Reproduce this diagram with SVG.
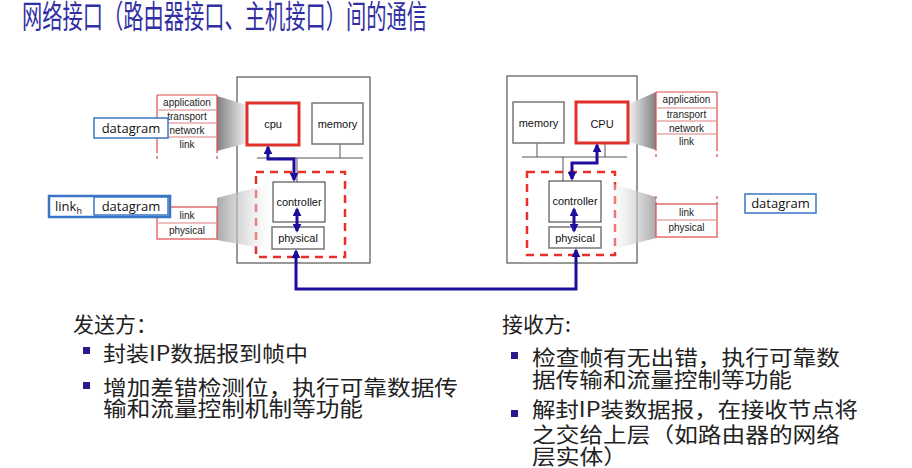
<svg xmlns="http://www.w3.org/2000/svg" width="912" height="468" viewBox="0 0 912 468">
<defs>
<style>
.host{fill:#fff;stroke:#555;stroke-width:1.2}
.box{fill:#fff;stroke:#333;stroke-width:1}
.gbox{fill:#fff;stroke:#777;stroke-width:1.5}
.cpu{fill:#fff;stroke:#e0302a;stroke-width:3}
.dash{fill:none;stroke:#e8302a;stroke-width:2.5;stroke-dasharray:8 6}
.bus{stroke:#555;stroke-width:1;fill:none}
.stk{fill:none;stroke:#e04848;stroke-width:1.2}
.div{stroke:#eaa8a8;stroke-width:1.5}
.sd{stroke:#e04848;stroke-width:1.2;stroke-dasharray:3 3}
.lbl{font-family:"Liberation Sans",Arial,sans-serif;font-size:11px;fill:#111;text-anchor:middle}
.sl{font-family:"Liberation Sans",Arial,sans-serif;font-size:10px;fill:#222;text-anchor:middle}
.dg{font-family:"Open Sans","Liberation Sans",sans-serif;font-size:13px;fill:#111}
.dgb{fill:#fff;stroke:#3a74c4;stroke-width:1.5}
.arr{fill:none;stroke:#1c0d9c;stroke-width:3}
.cn{font-family:"Noto Sans CJK SC","Noto Sans",sans-serif;font-size:21px;fill:#222}
.bul{fill:#2a1a8c}
</style>
<marker id="ah" viewBox="0 0 10 10" refX="8" refY="5" markerWidth="3" markerHeight="3" orient="auto-start-reverse">
<path d="M0,0 L10,5 L0,10 z" fill="#1c0d9c"/>
</marker>
<linearGradient id="gL" x1="0" y1="0" x2="1" y2="0">
<stop offset="0" stop-color="#808080"/><stop offset="1" stop-color="#f2f2f2"/>
</linearGradient>
<linearGradient id="gR" x1="0" y1="0" x2="1" y2="0">
<stop offset="0" stop-color="#f2f2f2"/><stop offset="1" stop-color="#808080"/>
</linearGradient>
<linearGradient id="gL2" x1="0" y1="0" x2="1" y2="0">
<stop offset="0" stop-color="#a0a0a0" stop-opacity="0.9"/><stop offset="1" stop-color="#ffffff" stop-opacity="0.3"/>
</linearGradient>
<linearGradient id="gR2" x1="0" y1="0" x2="1" y2="0">
<stop offset="0" stop-color="#ffffff" stop-opacity="0.3"/><stop offset="1" stop-color="#a0a0a0" stop-opacity="0.9"/>
</linearGradient>
</defs>
<rect width="912" height="468" fill="#fff"/>

<g id="title">
<text x="22" y="28" font-family="Noto Sans CJK SC,sans-serif" font-size="32" fill="#3030a4" textLength="405" lengthAdjust="spacingAndGlyphs">网络接口（路由器接口、主机接口）间的通信</text>
</g>

<g id="host-left">
<rect class="host" x="237" y="77" width="133" height="186"/>
<line class="bus" x1="257" y1="158" x2="363" y2="158"/>
<line class="bus" x1="340" y1="144" x2="340" y2="158"/>
<line class="bus" x1="297" y1="158" x2="297" y2="182"/>
<rect class="dash" x="256" y="172" width="89" height="85"/>
<polygon points="217,96 247,105 247,143 217,151" fill="url(#gL)"/>
<polygon points="217,198 273,183 273,250 217,240" fill="url(#gL2)"/>
<g id="cpu-left"><rect class="cpu" x="247" y="103" width="52" height="42"/><text class="lbl" x="273" y="128">cpu</text></g>
<g id="memory-left"><rect class="gbox" x="312" y="103" width="51" height="41"/><text class="lbl" x="337.5" y="128">memory</text></g>
<g id="controller-left"><rect class="box" x="273" y="182" width="52" height="40"/><text class="lbl" x="299" y="206">controller</text></g>
<g id="physical-left"><rect class="gbox" x="272" y="227" width="52" height="22"/><text class="lbl" x="298" y="242">physical</text></g>
</g>

<g id="host-right">
<rect class="host" x="507" y="76" width="130" height="187"/>
<line class="bus" x1="522" y1="157" x2="627" y2="157"/>
<line class="bus" x1="537" y1="143" x2="537" y2="157"/>
<line class="bus" x1="605" y1="143" x2="605" y2="157"/>
<line class="bus" x1="563" y1="157" x2="563" y2="181"/>
<rect class="dash" x="527" y="172" width="88" height="83"/>
<polygon points="629,104 656,92 656,150 629,142" fill="url(#gR)"/>
<polygon points="610,183 656,197 656,238 610,250" fill="url(#gR2)"/>
<g id="memory-right"><rect class="gbox" x="513" y="102" width="51" height="41"/><text class="lbl" x="538.5" y="127">memory</text></g>
<g id="cpu-right"><rect class="cpu" x="576" y="102" width="52" height="41"/><text class="lbl" x="602" y="128" font-size="13">CPU</text></g>
<g id="controller-right"><rect class="box" x="549" y="181" width="52" height="41"/><text class="lbl" x="575" y="205">controller</text></g>
<g id="physical-right"><rect class="gbox" x="549" y="227" width="52" height="21"/><text class="lbl" x="575" y="242">physical</text></g>
</g>

<g id="stack-left-top">
<line class="stk" x1="157" y1="95" x2="217" y2="95"/>
<line class="stk" x1="157" y1="95" x2="157" y2="150"/>
<line class="stk" x1="217" y1="95" x2="217" y2="150"/>
<line class="sd" x1="157" y1="150" x2="157" y2="160"/>
<line class="sd" x1="217" y1="150" x2="217" y2="160"/>
<line class="div" x1="157" y1="110" x2="217" y2="110"/>
<line class="div" x1="157" y1="123" x2="217" y2="123"/>
<line class="div" x1="157" y1="137" x2="217" y2="137"/>
<text class="sl" x="187" y="106">application</text>
<text class="sl" x="187" y="120">transport</text>
<text class="sl" x="187" y="134">network</text>
<text class="sl" x="187" y="148">link</text>
</g>
<g id="datagram-left-top">
<rect class="dgb" x="94" y="118" width="74" height="20"/>
<text class="dg" x="131" y="133" text-anchor="middle">datagram</text>
</g>

<g id="stack-left-bottom">
<rect class="stk" x="157" y="207" width="60" height="32"/>
<line class="div" x1="157" y1="223" x2="217" y2="223"/>
<text class="sl" x="187" y="219">link</text>
<text class="sl" x="187" y="234">physical</text>
</g>
<g id="frame-left">
<rect fill="#fff" stroke="#3a74c4" stroke-width="2.5" x="49" y="196" width="121" height="21"/>
<rect class="dgb" x="94" y="197" width="74" height="18"/>
<text class="dg" x="55" y="211">link<tspan font-size="9" dy="3">h</tspan></text>
<text class="dg" x="131" y="211" text-anchor="middle">datagram</text>
</g>

<g id="stack-right-top">
<line class="stk" x1="656" y1="92" x2="717" y2="92"/>
<line class="stk" x1="656" y1="92" x2="656" y2="148"/>
<line class="stk" x1="717" y1="92" x2="717" y2="148"/>
<line class="sd" x1="656" y1="148" x2="656" y2="158"/>
<line class="sd" x1="717" y1="148" x2="717" y2="158"/>
<line class="div" x1="656" y1="108" x2="717" y2="108"/>
<line class="div" x1="656" y1="121" x2="717" y2="121"/>
<line class="div" x1="656" y1="134" x2="717" y2="134"/>
<text class="sl" x="686.5" y="103">application</text>
<text class="sl" x="686.5" y="118">transport</text>
<text class="sl" x="686.5" y="132">network</text>
<text class="sl" x="686.5" y="145">link</text>
</g>
<g id="stack-right-bottom">
<line class="sd" x1="656" y1="196" x2="656" y2="204"/>
<line class="sd" x1="717" y1="196" x2="717" y2="204"/>
<rect class="stk" x="656" y="204" width="61" height="33"/>
<line class="div" x1="656" y1="220" x2="717" y2="220"/>
<text class="sl" x="686.5" y="216">link</text>
<text class="sl" x="686.5" y="231">physical</text>
</g>
<g id="datagram-right">
<rect class="dgb" x="745" y="194" width="71" height="19"/>
<text class="dg" x="780.5" y="208" text-anchor="middle">datagram</text>
</g>

<g id="connectors">
<path class="arr" d="M268,147 V159 H294 V180" marker-start="url(#ah)" marker-end="url(#ah)"/>
<path class="arr" d="M297,209 V231" marker-start="url(#ah)" marker-end="url(#ah)"/>
<path class="arr" d="M572,179 V163 H597 V145" marker-start="url(#ah)" marker-end="url(#ah)"/>
<path class="arr" d="M574,209 V231" marker-start="url(#ah)" marker-end="url(#ah)"/>
<path class="arr" d="M296,251 V289 H576 V250" marker-start="url(#ah)" marker-end="url(#ah)"/>
</g>

<g id="sender-text">
<text class="cn" x="73" y="332">发送方：</text>
<rect class="bul" x="83" y="347" width="7" height="7"/>
<text class="cn" x="103" y="361" textLength="205" lengthAdjust="spacingAndGlyphs">封装IP数据报到帧中</text>
<rect class="bul" x="83" y="382" width="7" height="7"/>
<text class="cn" x="103" y="395" textLength="355" lengthAdjust="spacingAndGlyphs">增加差错检测位，执行可靠数据传</text>
<text class="cn" x="103" y="416" textLength="260" lengthAdjust="spacingAndGlyphs">输和流量控制机制等功能</text>
</g>

<g id="receiver-text">
<text class="cn" x="502" y="332">接收方:</text>
<rect class="bul" x="511" y="352" width="7" height="7"/>
<text class="cn" x="532" y="365" textLength="308" lengthAdjust="spacingAndGlyphs">检查帧有无出错，执行可靠数</text>
<text class="cn" x="532" y="387" textLength="260" lengthAdjust="spacingAndGlyphs">据传输和流量控制等功能</text>
<rect class="bul" x="511" y="410" width="7" height="7"/>
<text class="cn" x="532" y="417" textLength="326" lengthAdjust="spacingAndGlyphs">解封IP装数据报，在接收节点将</text>
<text class="cn" x="532" y="442" textLength="308" lengthAdjust="spacingAndGlyphs">之交给上层（如路由器的网络</text>
<text class="cn" x="532" y="464" textLength="95" lengthAdjust="spacingAndGlyphs">层实体）</text>
</g>
</svg>
